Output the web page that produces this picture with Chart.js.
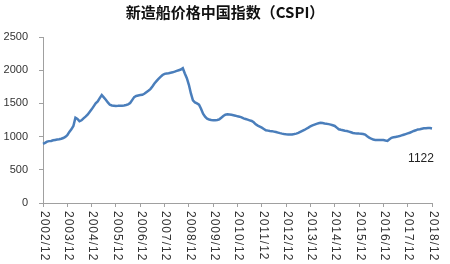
<!DOCTYPE html>
<html>
<head>
<meta charset="utf-8">
<script src="https://cdn.jsdelivr.net/npm/chart.js@4"></script>
<style>
  html, body { margin: 0; padding: 0; background: #fff; }
  #wrap { width: 450px; height: 264px; }
</style>
</head>
<body>
<div id="wrap"><canvas id="cspi"></canvas></div>
<script>
// tick labels shown on the x axis (one per year)
const yearLabels = ['2002/12', '2003/12', '2004/12', '2005/12', '2006/12', '2007/12', '2008/12',
  '2009/12', '2010/12', '2011/12', '2012/12', '2013/12', '2014/12', '2015/12', '2016/12',
  '2017/12', '2018/12'];

// monthly index values, 2002/12 .. 2018/12
const start = [890];
const y2003 = [905, 925, 932, 935, 945, 950, 955, 960, 968, 978, 995, 1020];
const y2004 = [1070, 1110, 1160, 1285, 1265, 1230, 1245, 1275, 1300, 1330, 1370, 1410];
const y2005 = [1455, 1500, 1530, 1580, 1626, 1590, 1555, 1515, 1480, 1468, 1465, 1462];
const y2006 = [1463, 1465, 1466, 1468, 1475, 1485, 1505, 1550, 1595, 1612, 1620, 1625];
const y2007 = [1630, 1645, 1668, 1690, 1715, 1755, 1800, 1835, 1870, 1900, 1928, 1945];
const y2008 = [1950, 1955, 1962, 1968, 1978, 1990, 2000, 2010, 2030, 1950, 1880, 1780];
const y2009 = [1650, 1545, 1515, 1500, 1480, 1420, 1345, 1300, 1270, 1258, 1250, 1248];
const y2010 = [1248, 1250, 1260, 1285, 1310, 1330, 1336, 1332, 1328, 1322, 1315, 1305];
const y2011 = [1300, 1290, 1275, 1265, 1255, 1245, 1235, 1215, 1185, 1165, 1150, 1134];
const y2012 = [1115, 1095, 1090, 1085, 1082, 1075, 1068, 1060, 1052, 1045, 1040, 1036];
const y2013 = [1033, 1032, 1033, 1038, 1045, 1055, 1070, 1085, 1100, 1118, 1135, 1155];
const y2014 = [1168, 1180, 1192, 1200, 1208, 1205, 1198, 1192, 1188, 1180, 1170, 1160];
const y2015 = [1135, 1110, 1102, 1095, 1088, 1084, 1075, 1065, 1055, 1050, 1048, 1045];
const y2016 = [1044, 1040, 1030, 1005, 985, 968, 955, 950, 948, 949, 950, 948];
const y2017 = [940, 935, 960, 982, 990, 995, 1000, 1008, 1018, 1028, 1038, 1048];
const y2018 = [1058, 1072, 1085, 1095, 1108, 1112, 1118, 1124, 1126, 1130, 1128, 1122];

const lastLabel = '1122';

const cspi = [].concat(start, y2003, y2004, y2005, y2006, y2007, y2008, y2009, y2010,
  y2011, y2012, y2013, y2014, y2015, y2016, y2017, y2018);

// month categories 2002/12 ... 2018/12
const months = [];
for (let i = 0; i < cspi.length; i++) {
  const m = (11 + i) % 12 + 1;
  const y = 2002 + Math.floor((11 + i) / 12);
  months.push(y + '/' + m);
}

const axisGrey = '#a0a0a0';
const textCol = '#333333';

// rotated year labels (top to bottom) and the end value
const extras = {
  id: 'extras',
  afterDraw(chart) {
    const ctx = chart.ctx;
    const xs = chart.scales.x;
    ctx.save();
    ctx.font = '12px "Liberation Sans", Arial, sans-serif';
    ctx.fillStyle = textCol;
    ctx.letterSpacing = '1px';
    ctx.textAlign = 'left';
    ctx.textBaseline = 'middle';
    yearLabels.forEach((lab, i) => {
      const px = xs.getPixelForValue(i * 12);
      ctx.save();
      ctx.translate(px + 1, xs.top + 8);
      ctx.rotate(Math.PI / 2);
      ctx.fillText(lab, 0, 0);
      ctx.restore();
    });
    ctx.letterSpacing = '0px';
    const pts = chart.getDatasetMeta(0).data;
    const last = pts[pts.length - 1];
    ctx.font = '12px "Liberation Sans", Arial, sans-serif';
    ctx.fillStyle = '#222';
    ctx.textAlign = 'center';
    ctx.fillText(lastLabel, last.x - 11, last.y + 30);
    ctx.restore();
  }
};

new Chart(document.getElementById('cspi').getContext('2d'), {
  type: 'line',
  data: {
    labels: months,
    datasets: [{
      label: 'CSPI',
      data: cspi,
      borderColor: '#4a7ebb',
      borderWidth: 2.5,
      pointRadius: 0,
      tension: 0,
      fill: false
    }]
  },
  options: {
    responsive: true,
    maintainAspectRatio: false,
    animation: false,
    layout: { padding: { left: 3, right: 3, top: 0, bottom: 57 } },
    plugins: {
      legend: { display: false },
      tooltip: { enabled: false },
      title: {
        display: true,
        text: '新造船价格中国指数（CSPI）',
        color: '#111',
        font: { family: '"Noto Sans CJK SC", sans-serif', size: 15, weight: 'bold' },
        padding: { top: 3, bottom: 16 }
      }
    },
    scales: {
      x: {
        offset: false,
        ticks: { display: false, autoSkip: false },
        grid: {
          drawOnChartArea: false,
          drawTicks: true,
          tickLength: 4,
          color: (c) => (c.index % 12 === 0 ? axisGrey : 'rgba(0,0,0,0)')
        },
        border: { display: true, color: axisGrey, width: 1 }
      },
      y: {
        min: 0,
        max: 2500,
        afterFit: (s) => { s.width = 40; },
        ticks: {
          stepSize: 500,
          padding: 11,
          color: textCol,
          font: { family: '"Liberation Sans", Arial, sans-serif', size: 11 },
          callback: (v) => String(v)
        },
        grid: { drawOnChartArea: false, drawTicks: true, tickLength: 4, color: axisGrey },
        border: { display: true, color: axisGrey, width: 1 }
      },
      // empty right-hand axis, only keeps a margin on the right
      spacer: {
        type: 'linear',
        position: 'right',
        afterFit: (s) => { s.width = 15; },
        ticks: { display: false },
        grid: { display: false },
        border: { display: false }
      }
    }
  },
  plugins: [extras]
});
</script>
</body>
</html>
